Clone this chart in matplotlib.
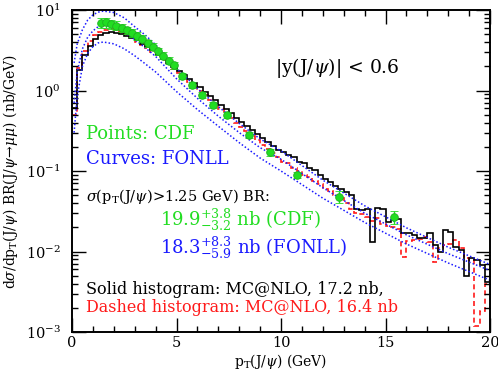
import numpy as np
import matplotlib
matplotlib.use("Agg")
import matplotlib.pyplot as plt
from matplotlib.ticker import LogLocator, MultipleLocator, NullFormatter

plt.rcParams['font.family'] = ['DejaVu Serif']
plt.rcParams['mathtext.fontset'] = 'dejavuserif'

# FONLL curves (central, upper, lower)
pt_fonll = [0.1, 0.25, 0.5, 0.75, 1, 1.25, 1.5, 2, 2.5, 3, 3.5, 4, 5, 6, 7, 8, 9, 10, 12, 14, 16, 18, 20]
fonll_c = [0.7, 1.7, 3.3, 4.6, 5.5, 6.2, 6.5, 6.2, 5.3, 4.3, 3.4, 2.65, 1.4, 0.8, 0.48, 0.3, 0.195, 0.14,
           0.062, 0.03, 0.0161, 0.0094, 0.0058]
fonll_hi = [2.2, 3.8, 5.7, 7.5, 8.7, 9.4, 9.7, 9.3, 8.0, 6.2, 4.9, 3.7, 1.9, 1.06, 0.63, 0.39, 0.25, 0.178,
            0.077, 0.037, 0.0197, 0.0113, 0.0069]
fonll_lo = [0.3, 0.85, 2.0, 2.9, 3.5, 3.9, 4.0, 3.8, 3.3, 2.7, 2.15, 1.7, 0.97, 0.58, 0.36, 0.225, 0.145, 0.10,
            0.046, 0.023, 0.0124, 0.0072, 0.0044]

# CDF data points
pt_cdf = [1.38, 1.63, 1.88, 2.12, 2.37, 2.62, 2.87, 3.12, 3.37, 3.62, 3.87, 4.12, 4.37, 4.62, 4.87,
          5.25, 5.73, 6.23, 6.73, 7.43, 8.47, 9.47, 10.77, 12.78, 15.4]
cdf = [6.9, 7.0, 6.7, 6.4, 6.0, 5.6, 5.2, 4.8, 4.4, 3.9, 3.5, 3.1, 2.7, 2.35, 2.05,
       1.51, 1.17, 0.88, 0.66, 0.50, 0.28, 0.17, 0.089, 0.048, 0.027]
cdf_err = [1.0, 1.0, 0.9, 0.8, 0.7, 0.6, 0.55, 0.5, 0.45, 0.4, 0.35, 0.3, 0.27, 0.24, 0.21,
           0.14, 0.11, 0.08, 0.06, 0.045, 0.025, 0.016, 0.008, 0.008, 0.0048]

# MC@NLO histograms, 0.25 GeV bins from 0 to 20
edges = np.arange(0, 20.001, 0.25)
mc_solid = [0.6, 1.8, 2.8, 3.6, 4.4, 4.9, 5.2, 5.3, 5.2, 5.0, 4.8, 4.5, 4.2, 3.8, 3.5, 3.2,
            2.75, 2.48, 2.22, 1.98, 1.76, 1.57, 1.40, 1.24, 1.10, 0.97, 0.86, 0.76, 0.67, 0.59, 0.52, 0.46,
            0.405, 0.36, 0.32, 0.285, 0.255, 0.228, 0.204, 0.183,
            0.17, 0.16, 0.148, 0.13, 0.125, 0.11, 0.102, 0.09, 0.079, 0.072, 0.066, 0.059, 0.055, 0.05,
            0.034, 0.033, 0.034, 0.0132, 0.035, 0.034, 0.0235, 0.0245, 0.025, 0.0168, 0.017, 0.016,
            0.0148, 0.0146, 0.0168, 0.012, 0.010, 0.0185, 0.0176, 0.0115, 0.0105, 0.0049, 0.0082,
            0.0078, 0.0068, 0.0042]
mc_dashed = [0.5, 1.9, 3.1, 4.1, 4.9, 5.4, 5.7, 5.8, 5.6, 5.3, 5.0, 4.6, 4.0, 3.7, 3.35, 3.0,
             2.7, 2.4, 2.12, 1.87, 1.65, 1.45, 1.28, 1.13, 0.99, 0.87, 0.76, 0.67, 0.59, 0.52, 0.455, 0.40,
             0.35, 0.31, 0.275, 0.24, 0.21, 0.19, 0.165, 0.15,
             0.13, 0.125, 0.11, 0.10, 0.09, 0.085, 0.075, 0.068, 0.060, 0.056, 0.050, 0.046, 0.040, 0.034,
             0.030, 0.029, 0.027, 0.024, 0.026, 0.022, 0.021, 0.020, 0.019, 0.0086, 0.0135, 0.0138,
             0.0145, 0.0150, 0.0130, 0.0075, 0.0110, 0.0120, 0.0125, 0.0139, 0.0110, 0.0083, 0.0078,
             0.0012, 0.0018, 0.0039]

green = '#22dd22'
blue = '#1a1aff'
red = '#ff1a1a'

W, H = 498, 370
fig = plt.figure(figsize=(W / 100, H / 100), dpi=100)
ax = fig.add_axes([72 / W, 1 - 332 / H, 418 / W, 322 / H])

for curve in (fonll_hi, fonll_c, fonll_lo):
    ax.plot(pt_fonll, curve, color=blue, lw=1.1, ls=(0, (1, 1.4)))

ax.stairs(mc_dashed, edges, baseline=None, color=red, lw=1.2, ls=(0, (3, 2)))
ax.stairs(mc_solid, edges, baseline=None, color='black', lw=1.2)

ax.errorbar(pt_cdf, cdf, yerr=cdf_err, fmt='o', color=green, ms=5.5, mec='#20b020', mew=0.6,
            elinewidth=1.0, capsize=3, zorder=5)

ax.set_yscale('log')
ax.set_xlim(0, 20)
ax.set_ylim(1e-3, 10)
ax.xaxis.set_major_locator(MultipleLocator(5))
ax.xaxis.set_minor_locator(MultipleLocator(1))
ax.yaxis.set_minor_locator(LogLocator(base=10, subs=np.arange(2, 10)))
ax.yaxis.set_minor_formatter(NullFormatter())
ax.tick_params(which='both', direction='in', top=True, right=True, labelsize=10.5, width=1.0)
ax.tick_params(which='major', length=10)
ax.tick_params(which='minor', length=4.5)
ax.tick_params(axis='x', pad=3)
ax.tick_params(axis='y', pad=8)
for s in ax.spines.values():
    s.set_linewidth(1.4)

ax.set_xlabel(r'p$_\mathrm{T}$(J/$\psi$) (GeV)', fontsize=10, labelpad=1)
ax.set_ylabel(r'd$\sigma$/dp$_\mathrm{T}$(J/$\psi$) BR(J/$\psi\!\rightarrow\!\mu\mu$) (nb/GeV)',
              fontsize=10, labelpad=4)


def px(x, y):
    return x / W, 1 - y / H


fig.text(*px(275, 68), r'|y(J/$\psi$)| < 0.6', fontsize=13.5, va='center', ha='left')
fig.text(*px(86, 134), 'Points: CDF', fontsize=13, color=green, va='center')
fig.text(*px(86, 159), 'Curves: FONLL', fontsize=13, color=blue, va='center')
fig.text(*px(86, 197), r'$\sigma$(p$_\mathrm{T}$(J/$\psi$)>1.25 GeV) BR:', fontsize=10.5, va='center')
fig.text(*px(160, 220), r'19.9$^{+3.8}_{-3.2}$ nb (CDF)', fontsize=13, color=green, va='center')
fig.text(*px(160, 248), r'18.3$^{+8.3}_{-5.9}$ nb (FONLL)', fontsize=13, color=blue, va='center')
fig.text(*px(86, 289), 'Solid histogram: MC@NLO, 17.2 nb,', fontsize=11.5, va='center')
fig.text(*px(86, 308), 'Dashed histogram: MC@NLO, 16.4 nb', fontsize=11.5, color=red, va='center')

fig.savefig('out.png', dpi=100)
